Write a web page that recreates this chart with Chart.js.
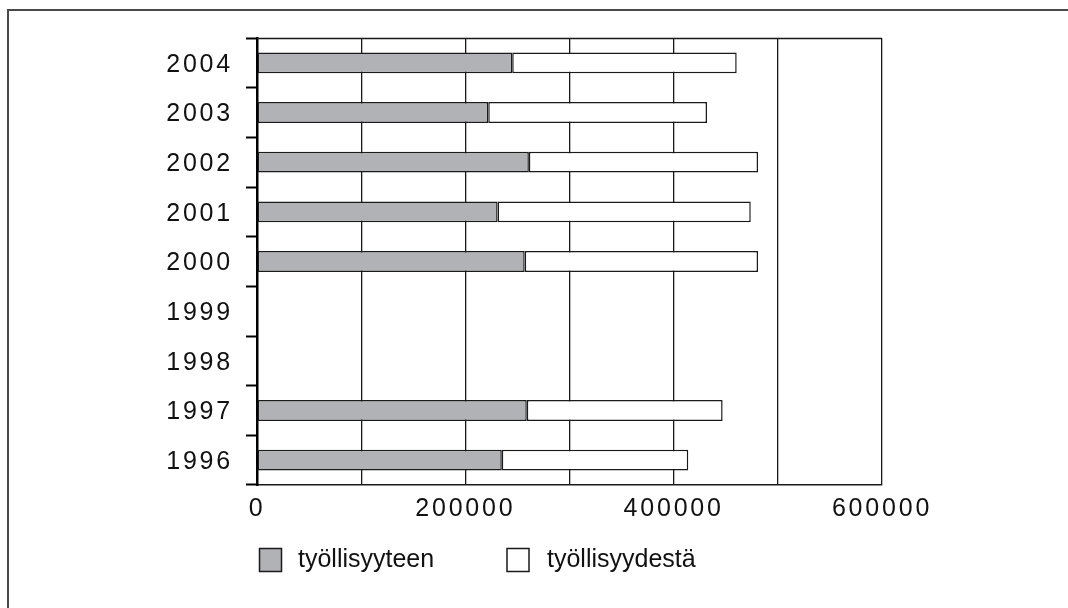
<!DOCTYPE html>
<html><head><meta charset="utf-8">
<script src="https://cdn.jsdelivr.net/npm/chart.js@4/dist/chart.umd.min.js"></script>
<style>
html,body{margin:0;padding:0;background:#fff;}
#wrap{position:relative;width:1068px;height:608px;overflow:hidden;}
#frame{position:absolute;left:7px;top:9px;right:-10px;bottom:-10px;border-left:2px solid #4a4a4a;border-top:2px solid #4a4a4a;}
canvas{position:absolute;left:0;top:0;}
</style></head><body>
<div id="wrap"><div id="frame"></div><canvas id="c" width="1068" height="608"></canvas></div>
<script>
// ---- data ----
const years = ['1996','1997','1998','1999','2000','2001','2002','2003','2004'];
const tyollisyyteen = [235000, 259000, null, null, 257000, 231000, 261000, 222000, 245000];
const tyollisyydesta = [179000, 188000, null, null, 224000, 243000, 220000, 210000, 215500];
const seriesNames = ['työllisyyteen', 'työllisyydestä'];
const xTickLabels = ['0', '', '200000', '', '400000', '', '600000'];

const FONT = '"Liberation Sans", Arial, Helvetica, sans-serif';
const INK = '#1a1a1a';
const GREY = '#b1b2b5';

const spacedLabels = {
  id: 'spacedLabels',
  beforeDraw(chart) {
    ['x', 'y'].forEach(id => {
      const s = chart.scales[id];
      if (s && !s._spaced) {
        const orig = s.drawLabels;
        s.drawLabels = function (area) {
          const ctx = this.ctx;
          const prev = ctx.letterSpacing;
          ctx.letterSpacing = '2.8px';
          orig.call(this, area);
          ctx.letterSpacing = prev || '0px';
        };
        s._spaced = true;
      }
    });
  }
};

const topLine = {
  id: 'topLine',
  beforeDatasetsDraw(chart) {
    const {ctx, chartArea: a} = chart;
    ctx.save();
    ctx.strokeStyle = INK;
    ctx.lineWidth = 1.5;
    ctx.beginPath();
    ctx.moveTo(a.left, a.top + 0.5);
    ctx.lineTo(a.right, a.top + 0.5);
    ctx.stroke();
    ctx.restore();
  }
};

const customLegend = {
  id: 'customLegend',
  afterDraw(chart) {
    const ctx = chart.ctx;
    const pos = [{bx: 259.5, tx: 298}, {bx: 507, tx: 547}];
    const by = 548.5, bs = 22;
    ctx.save();
    ctx.font = '25px ' + FONT;
    ctx.textBaseline = 'middle';
    ctx.textAlign = 'left';
    chart.data.datasets.forEach((ds, i) => {
      const p = pos[i];
      ctx.fillStyle = ds.backgroundColor;
      ctx.fillRect(p.bx, by, bs, bs + 1);
      ctx.strokeStyle = INK;
      ctx.lineWidth = 1.5;
      ctx.strokeRect(p.bx, by, bs, bs + 1);
      ctx.fillStyle = '#111';
      ctx.fillText(ds.label, p.tx, by + 12);
    });
    ctx.restore();
  }
};

new Chart(document.getElementById('c'), {
  type: 'bar',
  data: {
    labels: years,
    datasets: [
      {label: seriesNames[0], data: tyollisyyteen, backgroundColor: GREY, borderColor: INK, borderWidth: 1.5, borderSkipped: false},
      {label: seriesNames[1], data: tyollisyydesta, backgroundColor: '#ffffff', borderColor: INK, borderWidth: 1.5, borderSkipped: false}
    ]
  },
  options: {
    indexAxis: 'y',
    responsive: false,
    animation: false,
    devicePixelRatio: 1,
    layout: {padding: {left: 0, top: 38, right: 186, bottom: 83}},
    datasets: {bar: {categoryPercentage: 1, barPercentage: 0.42}},
    plugins: {legend: {display: false}, tooltip: {enabled: false}},
    scales: {
      x: {
        stacked: true,
        min: 0, max: 600000,
        afterFit(s) { s.height = 40; },
        ticks: {
          stepSize: 100000, autoSkip: false, maxRotation: 0, padding: 9,
          color: '#111', font: {family: FONT, size: 25},
          callback: (v, i) => xTickLabels[i]
        },
        grid: {color: INK, lineWidth: 1.3, drawTicks: false},
        border: {display: true, color: INK, width: 1.6}
      },
      y: {
        stacked: true,
        reverse: true,
        offset: true,
        afterFit(s) { s.width = 257; },
        ticks: {color: '#111', font: {family: FONT, size: 25}, padding: 13, labelOffset: 2},
        grid: {offset: true, drawOnChartArea: false, drawTicks: true, tickLength: 11, tickColor: '#000', tickWidth: 2},
        border: {display: true, color: '#000', width: 2.5}
      }
    }
  },
  plugins: [spacedLabels, topLine, customLegend]
});
</script>
</body></html>
